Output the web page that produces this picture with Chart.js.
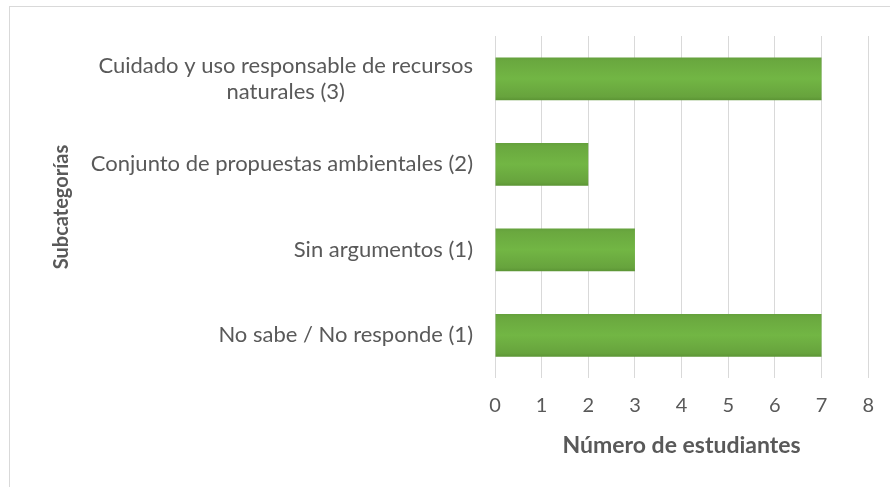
<!DOCTYPE html>
<html>
<head>
<meta charset="utf-8">
<script src="https://cdn.jsdelivr.net/npm/chart.js@4"></script>
<style>
    html, body { margin: 0; padding: 0; background: #fff; }
    #wrap { position: relative; width: 890px; height: 487px; }
    #frame { position: absolute; left: 9px; top: 6px; right: -2px; bottom: -2px; border-left: 1px solid #d9d9d9; border-top: 1px solid #d9d9d9; }
    canvas { position: absolute; left: 0; top: 0; }
</style>
</head>
<body>
<div id="wrap">
    <div id="frame"></div>
    <canvas id="chart" width="890" height="487"></canvas>
</div>
<script>
const categories = [
    ["Cuidado y uso responsable de recursos", "naturales (3)"],
    ["Conjunto de propuestas ambientales (2)"],
    ["Sin argumentos (1)"],
    ["No sabe / No responde (1)"]
];
const students = [7, 2, 3, 7];
const xTicks = [0, 1, 2, 3, 4, 5, 6, 7, 8];

const FONT = "Lato, 'Open Sans', sans-serif";
const TEXT = "#595959";

// Excel style category labels: lines of one label centered on each other
const wrappedLabels = {
    id: "wrappedLabels",
    afterDraw: function (chart) {
        var ctx = chart.ctx;
        var yScale = chart.scales.y;
        var right = chart.chartArea.left - 22;
        ctx.save();
        ctx.font = "22px " + FONT;
        ctx.fillStyle = TEXT;
        ctx.textAlign = "center";
        ctx.textBaseline = "middle";
        categories.forEach(function (lines, i) {
            var w = Math.max.apply(null, lines.map(function (l) { return ctx.measureText(l).width; }));
            var cx = right - w / 2;
            var cy = yScale.getPixelForTick(i);
            lines.forEach(function (line, j) {
                ctx.fillText(line, cx, cy + (j - (lines.length - 1) / 2) * 26);
            });
        });
        ctx.restore();
    }
};

function barGradient(context) {
    var chart = context.chart;
    var area = chart.chartArea;
    if (!area) return "#70ad47";
    var y = chart.scales.y;
    var c = y.getPixelForTick(context.dataIndex);
    var h = (y.height / categories.length) * 0.5;
    var g = chart.ctx.createLinearGradient(0, c - h / 2, 0, c + h / 2);
    g.addColorStop(0, "#64a03c");
    g.addColorStop(0.08, "#6aa83f");
    g.addColorStop(0.5, "#72b644");
    g.addColorStop(0.92, "#67a33d");
    g.addColorStop(1, "#5c9535");
    return g;
}

var ctx = document.getElementById("chart").getContext("2d");
new Chart(ctx, {
    type: "bar",
    data: {
        labels: categories,
        datasets: [{
            label: "Número de estudiantes",
            data: students,
            backgroundColor: barGradient,
            borderWidth: 0,
            categoryPercentage: 1,
            barPercentage: 0.5
        }]
    },
    options: {
        indexAxis: "y",
        responsive: false,
        animation: false,
        layout: { padding: { left: 46, right: 17, top: 36, bottom: 30 } },
        plugins: {
            legend: { display: false },
            tooltip: { enabled: false }
        },
        scales: {
            x: {
                min: 0,
                max: 8,
                afterBuildTicks: function (scale) {
                    scale.ticks = xTicks.map(function (v) { return { value: v }; });
                },
                grid: { color: "#d9d9d9", lineWidth: 1, drawTicks: false },
                border: { display: false },
                ticks: { color: TEXT, font: { family: FONT, size: 20 }, padding: 16 },
                title: {
                    display: true,
                    text: "Número de estudiantes",
                    color: TEXT,
                    font: { family: FONT, size: 23, weight: "bold", lineHeight: 1 },
                    padding: { top: 0, bottom: 0 }
                }
            },
            y: {
                grid: { display: false },
                border: { display: false },
                ticks: { display: false },
                afterFit: function (scale) { scale.width = 449; },
                title: {
                    display: true,
                    text: "Subcategorías",
                    color: TEXT,
                    font: { family: FONT, size: 20, weight: "bold" },
                    padding: { top: 4, bottom: 4 }
                }
            }
        }
    },
    plugins: [wrappedLabels]
});
</script>
</body>
</html>
